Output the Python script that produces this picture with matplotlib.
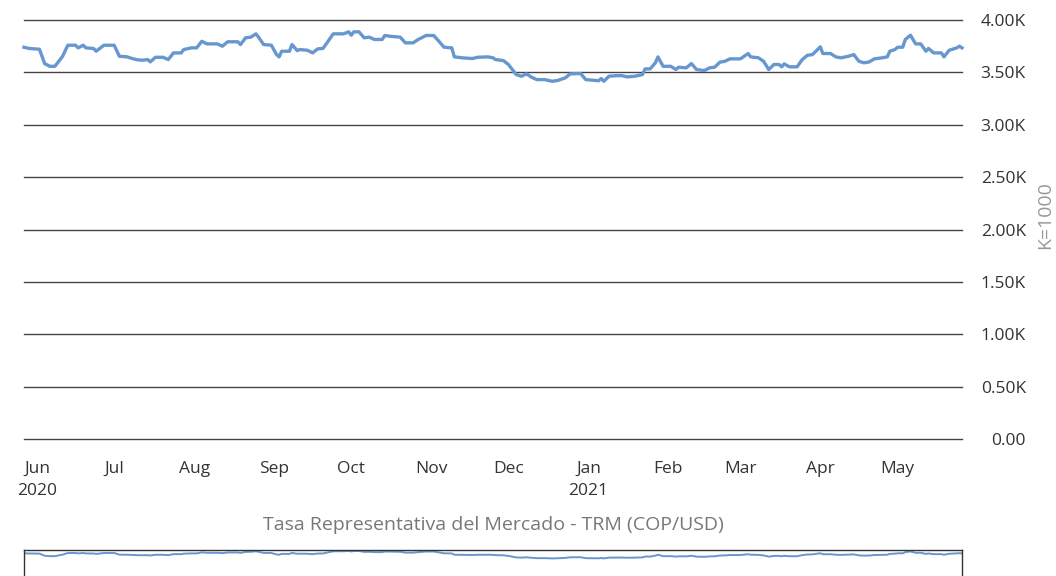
import matplotlib
matplotlib.use("Agg")
import matplotlib.pyplot as plt
import pandas as pd

plt.rcParams["font.family"] = ["Open Sans", "DejaVu Sans"]

# TRM COP/USD
dates = [
    "2020-05-27", "2020-05-29", "2020-06-02", "2020-06-04", "2020-06-06", "2020-06-08",
    "2020-06-11", "2020-06-13", "2020-06-16", "2020-06-17", "2020-06-19", "2020-06-20",
    "2020-06-23", "2020-06-24", "2020-06-27", "2020-07-01", "2020-07-03", "2020-07-06",
    "2020-07-08", "2020-07-10", "2020-07-12", "2020-07-14", "2020-07-15", "2020-07-17",
    "2020-07-20", "2020-07-22", "2020-07-24", "2020-07-27", "2020-07-28", "2020-07-31",
    "2020-08-02", "2020-08-04", "2020-08-06", "2020-08-10", "2020-08-12", "2020-08-14",
    "2020-08-18", "2020-08-19", "2020-08-21", "2020-08-23", "2020-08-25", "2020-08-26",
    "2020-08-28", "2020-08-31", "2020-09-02", "2020-09-03", "2020-09-04", "2020-09-07",
    "2020-09-08", "2020-09-10", "2020-09-11", "2020-09-14", "2020-09-16", "2020-09-18",
    "2020-09-20", "2020-09-22", "2020-09-24", "2020-09-28", "2020-09-30", "2020-10-01",
    "2020-10-02", "2020-10-04", "2020-10-06", "2020-10-08", "2020-10-10", "2020-10-13",
    "2020-10-14", "2020-10-16", "2020-10-20", "2020-10-22", "2020-10-25", "2020-10-27",
    "2020-10-30", "2020-11-02", "2020-11-04", "2020-11-06", "2020-11-09", "2020-11-10",
    "2020-11-13", "2020-11-17", "2020-11-19", "2020-11-23", "2020-11-25", "2020-11-26",
    "2020-11-29", "2020-12-01", "2020-12-04", "2020-12-06", "2020-12-08", "2020-12-10",
    "2020-12-12", "2020-12-15", "2020-12-18", "2020-12-20", "2020-12-23", "2020-12-25",
    "2020-12-29", "2020-12-31", "2021-01-03", "2021-01-05", "2021-01-06", "2021-01-07",
    "2021-01-09", "2021-01-12", "2021-01-14", "2021-01-16", "2021-01-19", "2021-01-22",
    "2021-01-23", "2021-01-25", "2021-01-27", "2021-01-28", "2021-01-30", "2021-02-02",
    "2021-02-04", "2021-02-05", "2021-02-08", "2021-02-10", "2021-02-12", "2021-02-15",
    "2021-02-17", "2021-02-19", "2021-02-21", "2021-02-23", "2021-02-25", "2021-03-01",
    "2021-03-04", "2021-03-05", "2021-03-08", "2021-03-10", "2021-03-12", "2021-03-14",
    "2021-03-16", "2021-03-17", "2021-03-18", "2021-03-20", "2021-03-23", "2021-03-25",
    "2021-03-27", "2021-03-29", "2021-04-01", "2021-04-02", "2021-04-05", "2021-04-07",
    "2021-04-09", "2021-04-12", "2021-04-14", "2021-04-16", "2021-04-18", "2021-04-20",
    "2021-04-22", "2021-04-25", "2021-04-27", "2021-04-28", "2021-04-30", "2021-05-01",
    "2021-05-03", "2021-05-04", "2021-05-06", "2021-05-08", "2021-05-10", "2021-05-12",
    "2021-05-13", "2021-05-15", "2021-05-18", "2021-05-19", "2021-05-21", "2021-05-24",
    "2021-05-25", "2021-05-26",
]
trm = [
    3740, 3728, 3721, 3584, 3558, 3558,
    3654, 3759, 3759, 3734, 3759, 3734,
    3728, 3702, 3759, 3759, 3654, 3648,
    3632, 3620, 3616, 3622, 3600, 3644,
    3644, 3622, 3686, 3686, 3718, 3734,
    3734, 3797, 3772, 3772, 3750, 3792,
    3792, 3766, 3830, 3836, 3868, 3836,
    3766, 3759, 3670, 3648, 3702, 3702,
    3766, 3708, 3718, 3711, 3686, 3725,
    3728, 3797, 3868, 3868, 3887, 3855,
    3887, 3887, 3830, 3836, 3814, 3814,
    3852, 3845, 3836, 3782, 3782, 3814,
    3852, 3852, 3797, 3740, 3734, 3648,
    3639, 3632, 3644, 3648, 3639, 3622,
    3613, 3575, 3479, 3463, 3486, 3453,
    3431, 3431, 3415, 3422, 3447, 3486,
    3489, 3431, 3424, 3420, 3441, 3415,
    3463, 3469, 3469, 3457, 3463, 3479,
    3533, 3533, 3591, 3648, 3558, 3558,
    3527, 3549, 3543, 3584, 3527, 3517,
    3543, 3549, 3597, 3606, 3629, 3629,
    3680, 3648, 3639, 3606, 3527, 3575,
    3575, 3553, 3581, 3553, 3553, 3622,
    3663, 3670, 3744, 3680, 3680, 3648,
    3639, 3654, 3670, 3606, 3591, 3600,
    3629, 3639, 3648, 3702, 3718, 3740,
    3740, 3814, 3855, 3772, 3772, 3702,
    3728, 3686, 3686, 3648, 3711, 3734,
    3750, 3734,
]
y_ticks = [0, 500, 1000, 1500, 2000, 2500, 3000, 3500, 4000]
y_tick_labels = ["0.00", "0.50K", "1.00K", "1.50K", "2.00K", "2.50K", "3.00K", "3.50K", "4.00K"]
month_ticks = ["2020-06-01", "2020-07-01", "2020-08-01", "2020-09-01", "2020-10-01", "2020-11-01",
               "2020-12-01", "2021-01-01", "2021-02-01", "2021-03-01", "2021-04-01", "2021-05-01"]
month_labels = ["Jun\n2020", "Jul", "Aug", "Sep", "Oct", "Nov", "Dec", "Jan\n2021",
                "Feb", "Mar", "Apr", "May"]

x = pd.to_datetime(dates)
LINE = "#6897d0"
W, H = 1056, 576

fig = plt.figure(figsize=(W / 100, H / 100), dpi=100)
ax = fig.add_axes([24 / W, 1 - 439 / H, (962 - 24) / W, (439 - 20) / H])
ax.plot(x, trm, color=LINE, lw=2.4, solid_joinstyle="round", zorder=3, clip_on=False)
ax.set_xlim(x[0], x[-1])
ax.set_ylim(0, 4000)

for s in ax.spines.values():
    s.set_visible(False)
for t in y_ticks:
    ax.axhline(t, color="#444444", lw=1, zorder=1, clip_on=False)

ax.yaxis.tick_right()
ax.set_yticks(y_ticks)
ax.set_yticklabels(y_tick_labels, ha="right")
ax.tick_params(axis="y", length=0, pad=46, labelsize=12.5, labelcolor="#333333")

ax.set_xticks(pd.to_datetime(month_ticks))
ax.set_xticklabels(month_labels, linespacing=1.45)
ax.tick_params(axis="x", length=0, pad=16, labelsize=12.5, labelcolor="#333333")

fig.text(1045 / W, 1 - 215 / H, "K=1000", rotation=90, ha="center", va="center",
         fontsize=14, color="#999999")
fig.text((24 + 962) / 2 / W, 1 - 525 / H, "Tasa Representativa del Mercado - TRM (COP/USD)",
         ha="center", va="center", fontsize=14, color="#777777")

# navigator strip at the bottom (partly cut off)
nav = fig.add_axes([24 / W, 1 - 612 / H, (962 - 24) / W, 62 / H])
nav.plot(x, trm, color=LINE, lw=1.4)
nav.set_xlim(x[0], x[-1])
nav.set_ylim(0, 3950)
nav.set_xticks([]); nav.set_yticks([])
for s in nav.spines.values():
    s.set_color("#333333"); s.set_linewidth(1)

fig.savefig("out.png", dpi=100)
